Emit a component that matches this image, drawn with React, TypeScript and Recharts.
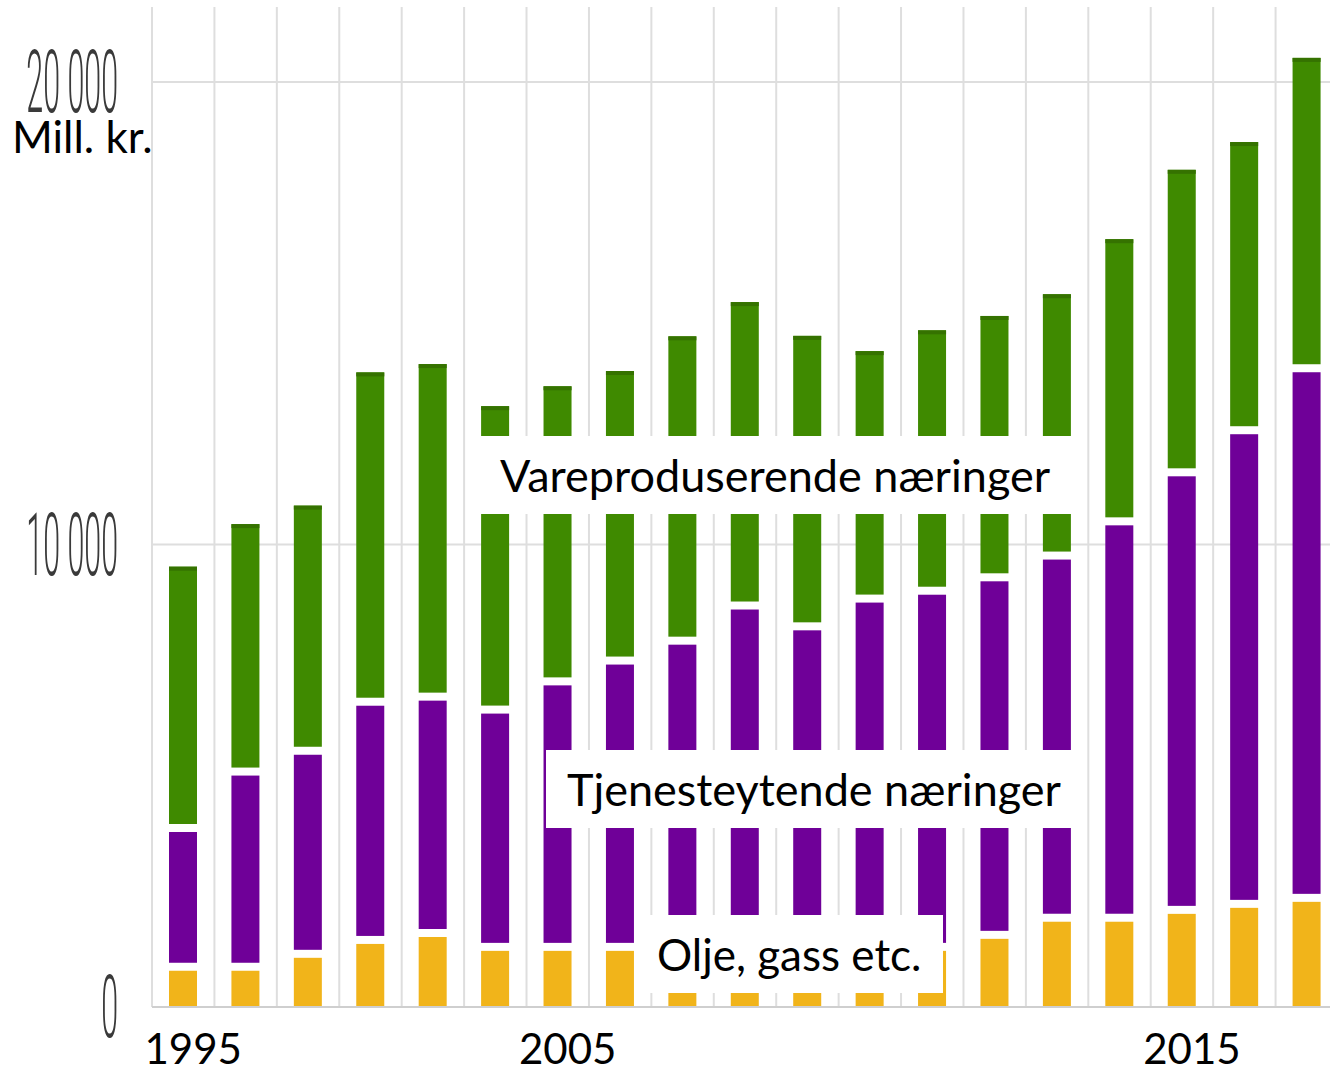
import React from "react";
import { BarChart, Bar, XAxis, YAxis, CartesianGrid } from "recharts";

// FoU-utgifter i næringslivet, mill. kr.
const years = [
  "1995", "1997", "1999", "2001", "2003", "2004", "2005", "2006", "2007", "2008",
  "2009", "2010", "2011", "2012", "2013", "2014", "2015", "2016", "2017",
];
const olje = [
  870, 870, 1150, 1450, 1600, 1300, 1300, 1300, 1300, 1400,
  1350, 1300, 1300, 1560, 1930, 1930, 2100, 2230, 2360,
];
const tjeneste = [
  3000, 4220, 4390, 5150, 5110, 5130, 5740, 6190, 6620, 7280,
  6880, 7530, 7700, 7730, 7830, 8570, 9460, 10240, 11450,
];
const vare = [
  5650, 5350, 5300, 7120, 7190, 6560, 6380, 6260, 6580, 6560,
  6280, 5350, 5630, 5650, 5650, 6100, 6540, 6230, 6710,
];
const yTicks = [0, 10000, 20000];
const xTicks = ["1995", "2005", "2015"];

const data = years.map((year, i) => ({
  year,
  olje: olje[i],
  tjeneste: tjeneste[i],
  vare: vare[i],
}));

const GREEN = "#3f8a00";
const PURPLE = "#6f0098";
const ORANGE = "#f1b41a";
const GAP = 4;

const fmt = (n: number) => String(n).replace(/\B(?=(\d{3})+(?!\d))/g, " ");

// bar segment with a white gap to the segment below / above
const segment = (trimTop: number, trimBottom: number, topBand?: string) => (props: any) => {
  const { x, y, width, height, fill } = props;
  const h = Math.max(0, height - trimTop - trimBottom);
  return (
    <g>
      <rect x={x} y={y + trimTop} width={width} height={h} fill={fill} />
      {topBand && <rect x={x} y={y} width={width} height={4} fill={topBand} />}
    </g>
  );
};

const YTick = ({ x, y, payload }: any) => (
  <g transform={`translate(${x},${y}) scale(0.8,2.3)`}>
    <text
      textAnchor="end"
      dominantBaseline="central"
      fontFamily="Roboto"
      fontWeight={300}
      fontSize={38}
      fill="#3a3a3a"
    >
      {fmt(payload.value)}
    </text>
  </g>
);

const XTick = ({ x, y, payload }: any) => (
  <text x={x + 10} y={y} dy="0.71em" textAnchor="middle" fontFamily="Lato" fontSize={42} fill="#000">
    {payload.value}
  </text>
);

const boxStyle: React.CSSProperties = {
  position: "absolute",
  background: "#fff",
  display: "flex",
  alignItems: "center",
  fontFamily: "Lato",
  fontSize: 45,
  color: "#000",
  height: 78,
  boxSizing: "border-box",
  whiteSpace: "nowrap",
};

export default function App() {
  return (
    <div
      style={{
        position: "fixed",
        left: 0,
        top: 0,
        width: 1330,
        height: 1070,
        overflow: "hidden",
        background: "#fff",
      }}
    >
      <BarChart
        width={1340}
        height={1070}
        data={data}
        margin={{ top: 7, right: 2, bottom: 0, left: 0 }}
        barSize={28}
      >
        <CartesianGrid
          stroke="#dedede"
          strokeWidth={2}
          horizontalValues={[10000, 20000]}
          verticalCoordinatesGenerator={({ offset }: any) =>
            Array.from({ length: years.length + 1 }, (_, i) => offset.left + (i * offset.width) / years.length)
          }
        />
        <XAxis
          dataKey="year"
          ticks={xTicks}
          interval={0}
          height={63}
          tick={<XTick />}
          tickSize={0}
          tickMargin={27}
          axisLine={{ stroke: "#cfcfcf", strokeWidth: 2 }}
          tickLine={false}
        />
        <YAxis
          width={152}
          domain={[0, 21620]}
          ticks={yTicks}
          tick={<YTick />}
          tickSize={0}
          tickMargin={34}
          axisLine={false}
          tickLine={false}
        />
        <Bar dataKey="olje" stackId="a" fill={ORANGE} shape={segment(GAP, 0)} isAnimationActive={false} />
        <Bar dataKey="tjeneste" stackId="a" fill={PURPLE} shape={segment(GAP, GAP)} isAnimationActive={false} />
        <Bar dataKey="vare" stackId="a" fill={GREEN} shape={segment(0, GAP, "#357200")} isAnimationActive={false} />
      </BarChart>

      <div style={{ position: "absolute", left: 12, top: 110, fontFamily: "Lato", fontSize: 44, color: "#000" }}>
        Mill. kr.
      </div>
      <div style={{ ...boxStyle, left: 481, top: 436, width: 592, paddingLeft: 19 }}>
        Vareproduserende næringer
      </div>
      <div style={{ ...boxStyle, left: 546, top: 750, width: 527, paddingLeft: 21 }}>
        Tjenesteytende næringer
      </div>
      <div style={{ ...boxStyle, left: 637, top: 915, width: 306, paddingLeft: 20, fontSize: 44 }}>
        Olje, gass etc.
      </div>
    </div>
  );
}
